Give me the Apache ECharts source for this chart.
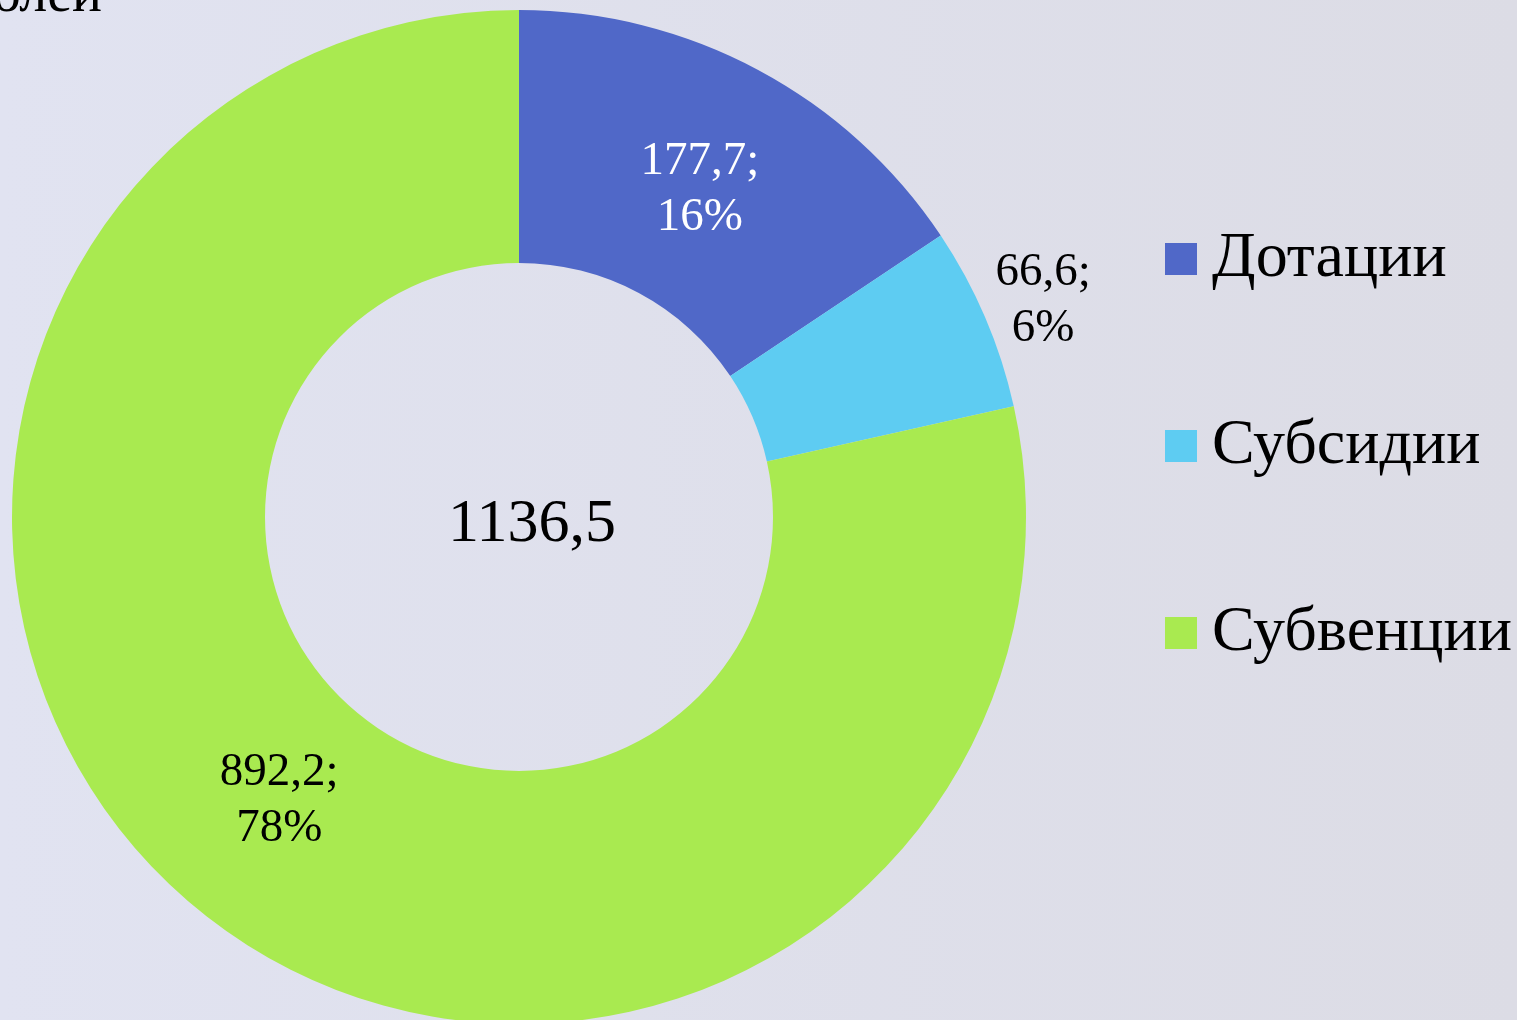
<!DOCTYPE html>
<html>
<head>
<meta charset="utf-8">
<style>
  html, body { margin: 0; padding: 0; }
  #chart { width: 1517px; height: 1020px; }
</style>
</head>
<body>
<div id="chart"></div>
<script src="https://cdn.jsdelivr.net/npm/echarts@6/dist/echarts.min.js"></script>
<script>
const categories = ['Дотации', 'Субсидии', 'Субвенции'];
const values = [177.7, 66.6, 892.2];
const shares = [16, 6, 78];
const colors = ['#5068C8', '#5ECCF2', '#A9EA50'];

const fmt = v => v.toFixed(1).replace('.', ',');
const total = values.reduce((a, b) => a + b, 0);
const serif = '"Liberation Serif", "Times New Roman", serif';
// small vertical nudges of the slice labels
const labelShift = [11, 8, -16];

const chart = echarts.init(document.getElementById('chart'));
chart.setOption({
  animation: false,
  backgroundColor: {
    type: 'linear', x: 0, y: 0, x2: 1, y2: 0,
    colorStops: [{ offset: 0, color: '#e1e3f1' }, { offset: 1, color: '#dcdce5' }]
  },
  legend: {
    orient: 'vertical',
    left: 1160,
    top: 222,
    icon: 'rect',
    itemWidth: 32,
    itemHeight: 32,
    itemGap: 123,
    data: categories,
    textStyle: { fontFamily: serif, fontSize: 64, color: '#000', lineHeight: 64, padding: [0, 0, 0, 10] }
  },
  graphic: [
    {
      type: 'text', x: 102, y: 24,
      style: { text: 'Объем безвозмездных поступлений, млн рублей', font: '56px ' + serif, fill: '#000', align: 'right', verticalAlign: 'bottom' }
    },
    {
      type: 'text', x: 532, y: 525,
      style: { text: fmt(total), font: '62px ' + serif, fill: '#000', align: 'center', verticalAlign: 'middle' }
    }
  ],
  series: [
    {
      type: 'pie',
      center: [519, 517],
      radius: [254, 507],
      startAngle: 90,
      clockwise: true,
      silent: true,
      labelLine: { show: false },
      labelLayout: p => ({ dy: labelShift[p.dataIndex] }),
      data: categories.map((name, i) => ({
        name,
        value: values[i],
        itemStyle: { color: colors[i] },
        label: {
          show: i !== 1,
          position: 'inside',
          formatter: fmt(values[i]) + ';\n' + shares[i] + '%',
          fontFamily: serif,
          fontSize: 47,
          lineHeight: 56,
          color: i === 0 ? '#fff' : '#000'
        }
      }))
    },
    {
      // outer transparent ring, used only to place the small slice's label
      type: 'pie',
      center: [519, 517],
      radius: [507, 627],
      startAngle: 90,
      clockwise: true,
      silent: true,
      labelLine: { show: false },
      labelLayout: p => ({ dy: labelShift[p.dataIndex] }),
      data: categories.map((name, i) => ({
        name,
        value: values[i],
        itemStyle: { color: 'rgba(0,0,0,0)' },
        label: {
          show: i === 1,
          position: 'inside',
          formatter: fmt(values[i]) + ';\n' + shares[i] + '%',
          fontFamily: serif,
          fontSize: 47,
          lineHeight: 56,
          color: '#000'
        }
      }))
    }
  ]
});
</script>
</body>
</html>
